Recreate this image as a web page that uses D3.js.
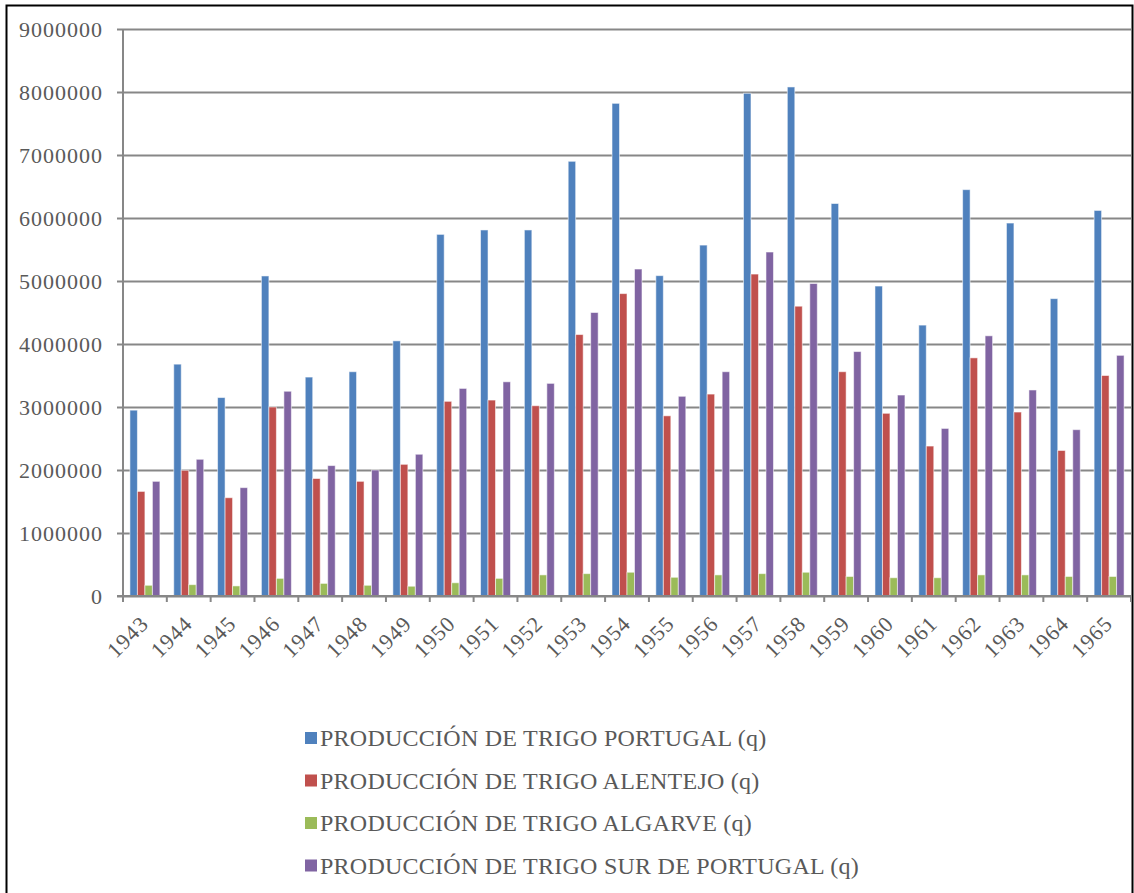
<!doctype html>
<html lang="en">
<head>
    <meta charset="utf-8">
    <title>Producción de trigo</title>
<style>
body {
margin: 0;
background: #fff;
font-family: "Liberation Serif", "Times New Roman", serif;
}
</style>
</head>

<body>
    <div id="chart"></div>
</body>

<script src="https://cdnjs.cloudflare.com/ajax/libs/d3/7.8.5/d3.min.js"></script>
<script>
var years = ["1943","1944","1945","1946","1947","1948","1949","1950","1951","1952","1953","1954",
             "1955","1956","1957","1958","1959","1960","1961","1962","1963","1964","1965"];

var portugal = [2950000, 3680000, 3150000, 5080000, 3475000, 3560000, 4050000, 5740000, 5810000, 5810000, 6900000, 7820000,
                5085000, 5570000, 7980000, 8080000, 6230000, 4920000, 4300000, 6450000, 5920000, 4720000, 6120000];
var alentejo = [1660000, 1995000, 1560000, 3000000, 1865000, 1820000, 2090000, 3090000, 3110000, 3020000, 4150000, 4800000,
                2860000, 3205000, 5110000, 4600000, 3560000, 2900000, 2380000, 3780000, 2920000, 2310000, 3500000];
var algarve  = [170000, 180000, 160000, 280000, 200000, 170000, 155000, 210000, 280000, 335000, 355000, 377000,
                297000, 335000, 355000, 377000, 310000, 290000, 290000, 335000, 335000, 310000, 310000];
var sur      = [1820000, 2170000, 1720000, 3250000, 2070000, 2000000, 2250000, 3295000, 3400000, 3375000, 4500000, 5190000,
                3170000, 3560000, 5460000, 4960000, 3880000, 3190000, 2660000, 4130000, 3270000, 2640000, 3820000];

var seriesNames = ["PRODUCCIÓN DE TRIGO PORTUGAL (q)", "PRODUCCIÓN DE TRIGO ALENTEJO (q)",
                   "PRODUCCIÓN DE TRIGO ALGARVE (q)", "PRODUCCIÓN DE TRIGO SUR DE PORTUGAL (q)"];
var seriesColors = ["#4F81BD", "#C0504D", "#9BBB59", "#8064A2"];
var yTicks = [0, 1000000, 2000000, 3000000, 4000000, 5000000, 6000000, 7000000, 8000000, 9000000];

var series = [portugal, alentejo, algarve, sur];

var width = 1134, height = 893;
var plotLeft = 123, plotRight = 1131, plotTop = 29, plotBottom = 596;

var svg = d3.select("#chart").append("svg")
    .attr("width", width)
    .attr("height", height);

// outer frame
svg.append("rect")
    .attr("x", 6.5).attr("y", 5.5)
    .attr("width", 1126).attr("height", 900)
    .style("fill", "none")
    .style("stroke", "#000")
    .style("stroke-width", 2);

var x = d3.scaleBand()
    .domain(years)
    .range([plotLeft, plotRight])
    .paddingInner(0.316)
    .paddingOuter(0.158);

var x1 = d3.scaleBand()
    .domain(d3.range(series.length))
    .range([0, x.bandwidth()]);

var y = d3.scaleLinear()
    .domain([0, 9000000])
    .range([plotBottom, plotTop]);

// gridlines + y labels
var yAxis = svg.append("g")
    .attr("transform", "translate(" + plotLeft + ",0)")
    .call(d3.axisLeft(y).tickValues(yTicks).tickSize(6).tickPadding(14).tickFormat(d3.format("d")));

yAxis.select(".domain").remove();
yAxis.selectAll(".tick line")
    .style("stroke", "#878787")
    .style("stroke-width", 2);
yAxis.selectAll(".tick").append("line")
    .attr("x1", 0).attr("x2", plotRight - plotLeft)
    .style("stroke", "#878787")
    .style("stroke-width", 2);
yAxis.selectAll(".tick text")
    .style("font-family", "'Liberation Serif', serif")
    .style("font-size", "22px")
    .style("letter-spacing", "1px")
    .style("fill", "#595959");

// bars
var groups = svg.append("g").selectAll("g")
    .data(years)
    .join("g")
    .attr("transform", function(d) { return "translate(" + x(d) + ",0)"; });

groups.selectAll("rect")
    .data(function(d, i) { return series.map(function(s, k) { return {k: k, v: s[i]}; }); })
    .join("rect")
    .attr("x", function(d) { return x1(d.k); })
    .attr("width", x1.bandwidth())
    .attr("y", function(d) { return y(d.v); })
    .attr("height", function(d) { return y(0) - y(d.v); })
    .style("fill", function(d) { return seriesColors[d.k]; })
    .style("stroke", "rgba(255,255,255,0.55)")
    .style("stroke-width", 1);

// left axis line
svg.append("line")
    .attr("x1", plotLeft).attr("x2", plotLeft)
    .attr("y1", plotTop).attr("y2", plotBottom + 6)
    .style("stroke", "#878787")
    .style("stroke-width", 2);

// bottom axis line and category ticks
svg.append("line")
    .attr("x1", plotLeft - 6).attr("x2", plotRight)
    .attr("y1", plotBottom).attr("y2", plotBottom)
    .style("stroke", "#878787")
    .style("stroke-width", 2);

var step = x.step();
svg.append("g").selectAll("line")
    .data(d3.range(years.length + 1))
    .join("line")
    .attr("x1", function(i) { return plotLeft + i * step; })
    .attr("x2", function(i) { return plotLeft + i * step; })
    .attr("y1", plotBottom).attr("y2", plotBottom + 6)
    .style("stroke", "#878787")
    .style("stroke-width", 2);

// x labels, rotated
svg.append("g").selectAll("text")
    .data(years)
    .join("text")
    .attr("transform", function(d) {
        return "translate(" + (x(d) + x.bandwidth() / 2 + 5) + "," + (plotBottom + 29) + ") rotate(-45)";
    })
    .attr("text-anchor", "end")
    .style("font-size", "22px")
    .style("letter-spacing", "1px")
    .style("fill", "#595959")
    .text(function(d) { return d; });

// legend
var legend = svg.append("g").selectAll("g")
    .data(seriesNames)
    .join("g")
    .attr("transform", function(d, i) { return "translate(305," + (738 + i * 42.5) + ")"; });

legend.append("rect")
    .attr("x", 0).attr("y", -6)
    .attr("width", 12).attr("height", 12)
    .style("fill", function(d, i) { return seriesColors[i]; });

legend.append("text")
    .attr("x", 15)
    .attr("y", 8)
    .style("font-size", "24px")
    .style("letter-spacing", "0.25px")
    .style("fill", "#595959")
    .text(function(d) { return d; });
</script>
</html>
